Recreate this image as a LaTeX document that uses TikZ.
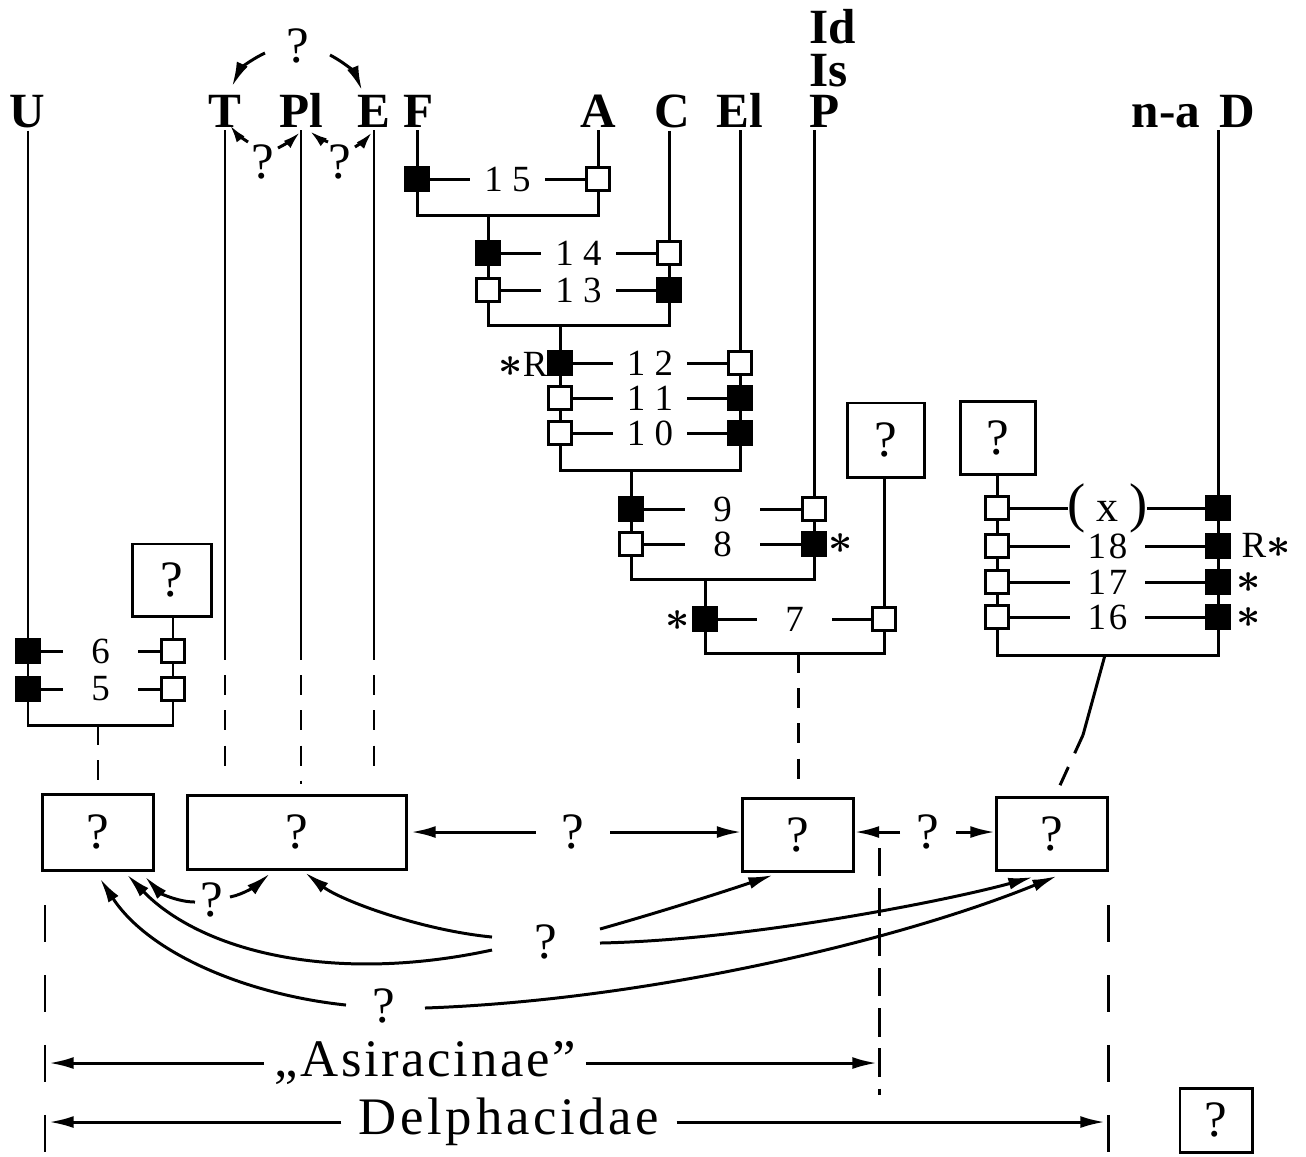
\documentclass[tikz,border=0pt]{standalone}
\usepackage{fontspec}
\setmainfont{Liberation Serif}
\usetikzlibrary{arrows.meta,calc}
\begin{document}
\begin{tikzpicture}[x=0.01cm,y=-0.01cm,line width=0.85pt,
  lab/.style={font=\fontsize{14}{14}\selectfont\bfseries,inner sep=0.5pt,anchor=base},
  num/.style={font=\fontsize{10.5}{11}\selectfont,fill=white,minimum width=0.74cm,inner sep=0pt},
  bsq/.style={draw,fill=black,minimum size=0.23cm,inner sep=0pt},
  wsq/.style={draw,fill=white,minimum size=0.23cm,inner sep=0pt},
  qbox/.style={draw,font=\fontsize{14.5}{14.5}\selectfont,inner sep=0pt},
  qm/.style={font=\fontsize{14.5}{14.5}\selectfont,inner sep=0pt},
  astk/.style={font=\fontsize{13}{13}\selectfont\boldmath,inner sep=0pt},
  arr/.style={-{Latex[length=7pt,width=3.4pt]}},
  sarr/.style={-{Latex[length=5pt,width=2.8pt]}},
  dsh/.style={dash pattern=on 5.7pt off 4.3pt},
  ldsh/.style={dash pattern=on 10.5pt off 9.4pt},
  mdsh/.style={dash pattern=on 8pt off 3.4pt},
  btxt/.style={font=\fontsize{15}{15}\selectfont}]
\useasboundingbox (0,0) rectangle (1306,1156);

% ---------- top labels ----------
\node[lab] (U) at (27,127) {U};
\node[lab] (T) at (225,127) {T};
\node[lab] (Pl) at (301,127) {Pl};
\node[lab] (E) at (374,127) {E};
\node[lab] (F) at (419,127) {F};
\node[lab] (A) at (598,127) {A};
\node[lab] (C) at (672,127) {C};
\node[lab] (El) at (740,127) {El};
\node[lab,anchor=base west] (P) at (806,127) {P};
\node[lab,anchor=base west] (Is) at (806,86) {Is};
\node[lab,anchor=base west] (Id) at (806,43) {Id};
\node[lab] (na) at (1166,127) {n-a};
\node[lab] (D) at (1237,127) {D};

% ---------- question marks round T Pl E ----------
\node[qm] (qt) at (298,46) {?};
\node[qm] (qa) at (263,162) {?};
\node[qm] (qb) at (340,162) {?};
\draw[arr] ($(qt)+(-33,7)$) to[bend right=20] ($(T.north)+(7,-5)$);
\draw[arr] ($(qt)+(32,9)$) to[bend left=20] ($(E.north)+(-12,-1)$);
\draw[sarr] ($(qa)+(-15,-20)$) to[bend left=10] ($(T.south)+(5,-5)$);
\draw[sarr] ($(qa)+(15,-14)$) to[bend right=8] ($(Pl.south)+(-1,2)$);
\draw[sarr] ($(qb)+(-12,-20)$) to[bend left=8] ($(Pl.south)+(9,1)$);
\draw[sarr] ($(qb)+(15,-15)$) to[bend right=8] ($(E.south)+(-2,2)$);

% ---------- cluster 5/6 ----------
\node[qbox,minimum width=0.78cm,minimum height=0.72cm] (q1) at (172,580) {?};
\node[bsq] (s6l) at (28,651) {};
\node[wsq] (s6r) at (173,651) {};
\node[bsq] (s5l) at (28,689) {};
\node[wsq] (s5r) at (173,689) {};
\draw (s6l) -- node[num] (n6) {6} (s6r);
\draw (s5l) -- node[num] (n5) {5} (s5r);
\coordinate (j5) at (0,725);
\draw (s6l.north |- U.south) -- (s6l.north);
\draw (s6l.south) -- (s5l.north);
\draw (s6r.south) -- (s5r.north);
\draw (q1.south -| s6r) -- (s6r.north);
\draw (s5l.south) -- (s5l |- j5) -- (s5r |- j5) -- (s5r.south);

% ---------- cluster F ... P ----------
\node[bsq] (s15l) at (417,179) {};
\node[wsq] (s15r) at (598,179) {};
\node[bsq] (s14l) at (488,253) {};
\node[wsq] (s14r) at (669,253) {};
\node[wsq] (s13l) at (488,290) {};
\node[bsq] (s13r) at (669,290) {};
\node[bsq] (s12l) at (560,363) {};
\node[wsq] (s12r) at (740,363) {};
\node[wsq] (s11l) at (560,398) {};
\node[bsq] (s11r) at (740,398) {};
\node[wsq] (s10l) at (560,433) {};
\node[bsq] (s10r) at (740,433) {};
\node[bsq] (s9l) at (631,509) {};
\node[wsq] (s9r) at (814,509) {};
\node[wsq] (s8l) at (631,544) {};
\node[bsq] (s8r) at (814,544) {};
\node[bsq] (s7l) at (705,619) {};
\node[wsq] (s7r) at (884,619) {};
\node[qbox,minimum width=0.77cm,minimum height=0.74cm] (q7) at (886,440) {?};

\draw (s15l) -- node[num] (n15) {1\kern2.6pt5} (s15r);
\draw (s14l) -- node[num] (n14) {1\kern2.6pt4} (s14r);
\draw (s13l) -- node[num] (n13) {1\kern2.6pt3} (s13r);
\draw (s12l) -- node[num] (n12) {1\kern2.6pt2} (s12r);
\draw (s11l) -- node[num] (n11) {1\kern2.6pt1} (s11r);
\draw (s10l) -- node[num] (n10) {1\kern2.6pt0} (s10r);
\draw (s9l) -- node[num] (n9) {9} (s9r);
\draw (s8l) -- node[num] (n8) {8} (s8r);
\draw (s7l) -- node[num] (n7) {7} (s7r);

\draw (s15l.north |- F.south) -- (s15l.north);
\draw (s15r.north |- A.south) -- (s15r.north);
\draw (s14r.north |- C.south) -- (s14r.north);
\draw (s12r.north |- El.south) -- (s12r.north);
\draw (s9r.north |- P.south) -- (s9r.north);

\coordinate (j15) at (0,215);
\coordinate (j13) at (0,325);
\coordinate (j10) at (0,470);
\coordinate (j8) at (0,579);
\coordinate (j7) at (0,653);
\draw (s15l.south) -- (s15l |- j15) -- (s15r |- j15) -- (s15r.south);
\draw (s14l |- j15) -- (s14l.north);
\draw (s14l.south) -- (s13l.north);
\draw (s14r.south) -- (s13r.north);
\draw (s13l.south) -- (s13l |- j13) -- (s13r |- j13) -- (s13r.south);
\draw (s12l |- j13) -- (s12l.north);
\draw (s12l.south) -- (s11l.north);
\draw (s11l.south) -- (s10l.north);
\draw (s12r.south) -- (s11r.north);
\draw (s11r.south) -- (s10r.north);
\draw (s10l.south) -- (s10l |- j10) -- (s10r |- j10) -- (s10r.south);
\draw (s9l |- j10) -- (s9l.north);
\draw (s9l.south) -- (s8l.north);
\draw (s9r.south) -- (s8r.north);
\draw (s8l.south) -- (s8l |- j8) -- (s8r |- j8) -- (s8r.south);
\draw (s7l |- j8) -- (s7l.north);
\draw (q7.south -| s7r) -- (s7r.north);
\draw (s7l.south) -- (s7l |- j7) -- (s7r |- j7) -- (s7r.south);

\node[astk,anchor=east] (a12) at (549,364) {$\ast${\fontsize{10.5}{10}\selectfont\mdseries R}};
\node[astk] (a8) at (841,544) {$\ast$};
\node[astk] (a7) at (678,621) {$\ast$};

% ---------- right cluster ----------
\node[qbox,minimum width=0.75cm,minimum height=0.73cm] (qR) at (998,438) {?};
\node[wsq] (rxl) at (997,508) {};
\node[bsq] (rxr) at (1218,508) {};
\node[wsq] (r18l) at (997,546) {};
\node[bsq] (r18r) at (1218,546) {};
\node[wsq] (r17l) at (997,582) {};
\node[bsq] (r17r) at (1218,582) {};
\node[wsq] (r16l) at (997,617) {};
\node[bsq] (r16r) at (1218,617) {};
\draw (rxl) -- node[num] (nx) {{\fontsize{15.5}{16}\selectfont(}\kern3pt{\fontsize{12.5}{12}\selectfont x}\kern3pt{\fontsize{15.5}{16}\selectfont)}} (rxr);
\draw (r18l) -- node[num] (n18) {1\kern0.8pt8} (r18r);
\draw (r17l) -- node[num] (n17) {1\kern0.8pt7} (r17r);
\draw (r16l) -- node[num] (n16) {1\kern0.8pt6} (r16r);
\draw (rxr.north |- D.south) -- (rxr.north);
\draw (qR.south -| rxl) -- (rxl.north);
\draw (rxl.south) -- (r18l.north);
\draw (r18l.south) -- (r17l.north);
\draw (r17l.south) -- (r16l.north);
\draw (rxr.south) -- (r18r.north);
\draw (r18r.south) -- (r17r.north);
\draw (r17r.south) -- (r16r.north);
\coordinate (j16) at (0,655);
\draw (r16l.south) -- (r16l |- j16) -- (r16r |- j16) -- (r16r.south);
\node[astk,anchor=west] (a18) at (1240,545) {{\fontsize{10.5}{10}\selectfont\mdseries R}$\ast$};
\node[astk] (a17) at (1249,583) {$\ast$};
\node[astk] (a16) at (1249,618) {$\ast$};

% ---------- bottom boxes ----------
\node[qbox,minimum width=1.10cm,minimum height=0.76cm] (B1) at (98,832) {?};
\node[qbox,minimum width=2.18cm,minimum height=0.74cm] (B2) at (297,832) {?};
\node[qbox,minimum width=1.10cm,minimum height=0.73cm] (B3) at (798,835) {?};
\node[qbox,minimum width=1.11cm,minimum height=0.73cm] (B4) at (1052,834) {?};

% connections down to boxes
\draw[dsh] (B1.north |- j5) -- ($(B1.north)+(0,-7)$);
\coordinate (ds) at (0,640);
\draw (T.south) -- (T.south |- ds);
\draw[dsh] (T.south |- ds) -- ($(B2.north -| T.south)+(0,-20)$);
\draw (Pl.south) -- (Pl.south |- ds);
\draw[dsh] (Pl.south |- ds) -- ($(B2.north -| Pl.south)+(0,-10)$);
\draw (E.south) -- (E.south |- ds);
\draw[dsh] (E.south |- ds) -- ($(B2.north -| E.south)+(0,-20)$);
\draw[dsh] (B3.north |- j7) -- ($(B3.north)+(0,-15)$);
\coordinate (rj) at (1105,655);
\coordinate (rk) at (1083,735);
\draw (rj) -- (rk);
\draw[dsh] (rk) -- ($(B4.north)+(4,-2)$);

% horizontal arrows between boxes
\node[qm,inner xsep=7pt] (q23) at (573,832) {?};
\node[qm,inner xsep=4.3pt] (q34) at (928,832) {?};
\draw[arr,shorten >=1pt] (q23.west) -- (B2.east);
\draw[arr] (q23.east) -- (q23.east -| B3.west);
\draw[arr] (q34.west) -- (q34.west -| B3.east);
\draw[arr] (q34.east) -- (q34.east -| B4.west);

% curved arrows
\node[qm] (qs) at (212,900) {?};
\node[qm] (qc) at (546,942) {?};
\node[qm] (ql) at (384,1006) {?};
\draw[arr] ($(qc)+(-54,-5)$) .. controls (420,930) and (340,900) .. ($(B2.south)+(8,2)$);
\draw[arr] ($(qc)+(-54,8)$) .. controls (330,985) and (200,950) .. ($(B1.south)+(29,3)$);
\draw[arr] ($(ql)+(-38,-1)$) .. controls (250,995) and (150,955) .. ($(B1.south)+(2,7)$);
\draw[arr] ($(qs)+(-17,2)$) .. controls (178,902) and (160,893) .. ($(B1.south)+(47,5)$);
\draw[arr] ($(qs)+(18,-3)$) .. controls (245,894) and (258,884) .. ($(B2.south)+(-27,3)$);
\draw[arr] ($(qc)+(54,-13)$) .. controls (660,912) and (720,893) .. ($(B3.south)+(-25,2)$);
\draw[arr] ($(qc)+(54,1)$) .. controls (750,940) and (950,900) .. ($(B4.south)+(-19,5)$);
\draw[arr] ($(ql)+(41,2)$) .. controls (650,1000) and (900,940) .. ($(B4.south)+(5,4)$);

% vertical dashed limits
\draw[ldsh] (45,905) -- (45,1152);
\draw[ldsh] (1108,905) -- (1108,1152);
\draw[mdsh] (879,848) -- (879,1095);

% group labels
\node[btxt,inner xsep=2.5pt] (asi) at (425,1063) {\addfontfeature{LetterSpace=5}„Asiracinae”};
\coordinate (asiL) at (49,1063);
\coordinate (asiR) at (877,1063);
\draw[arr] (asi.west) -- (asiL);
\draw[arr] (asi.east) -- (asiR);
\node[btxt,inner xsep=4.5pt] (del) at (509,1122) {\addfontfeature{LetterSpace=7}Delphacidae};
\coordinate (delL) at (49,1122);
\coordinate (delR) at (1105,1122);
\draw[arr] (del.west) -- (delL);
\draw[arr] (del.east) -- (delR);

\node[qbox,minimum width=0.72cm,minimum height=0.64cm] (Bq) at (1216,1120) {?};
\end{tikzpicture}
\end{document}
